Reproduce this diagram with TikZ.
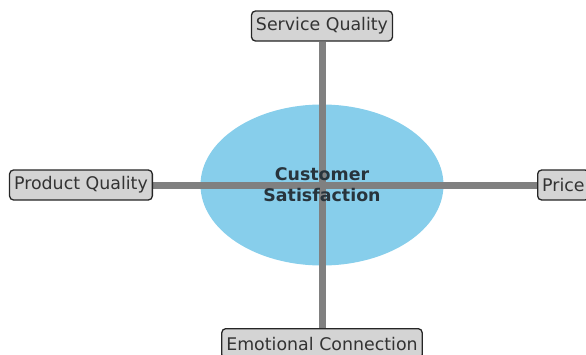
\documentclass[tikz,border=0pt]{standalone}
\usepackage{fontspec}
\setmainfont{DejaVu Sans}
\usetikzlibrary{backgrounds}
\definecolor{hub}{RGB}{135,206,235}
\definecolor{hubtext}{RGB}{40,52,60}
\begin{document}
\begin{tikzpicture}[x=1pt,y=-1pt,
  factor/.style={draw=black!85, line width=1.3pt, fill=black!17, rounded corners=4pt,
    text=black!80, font=\fontsize{17.4}{19}\selectfont, inner xsep=4.5pt, inner ysep=3pt,
    minimum height=30pt},
  link/.style={draw=black!50, line width=7pt}]
\useasboundingbox (0,0) rectangle (586,354);
\node[font=\bfseries\fontsize{17.4}{21}\selectfont, text=hubtext, align=center] (cs) at (322,185) {Customer\\Satisfaction};
\node[factor] (sq) at (322,26) {Service Quality};
\node[factor, anchor=east] (pq) at (153,185) {Product Quality};
\node[factor, anchor=west] (pr) at (537,185) {Price};
\node[factor, anchor=north] (ec) at (322,328) {Emotional Connection};
\begin{scope}[on background layer]
  \fill[hub] (cs.center) ellipse [x radius=121.5, y radius=80.5];
  \draw[link] (sq.south) -- (ec.north);
  \draw[link] (pq.east) -- (pr.west);
\end{scope}
\end{tikzpicture}
\end{document}
